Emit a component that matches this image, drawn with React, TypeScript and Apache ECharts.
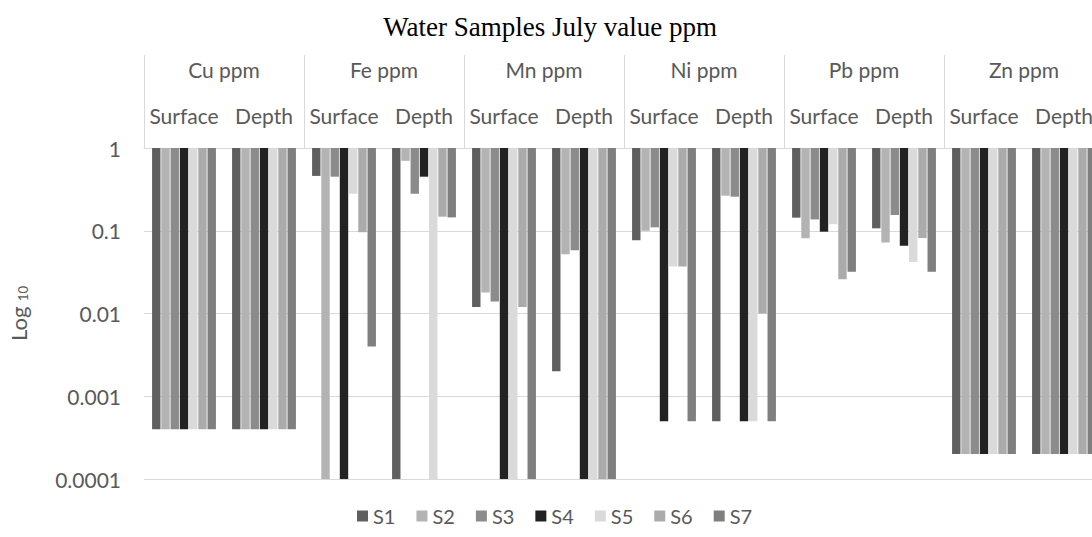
import React, { useEffect, useRef } from "react";
import * as echarts from "echarts";

const categories = [
  "Surface", "Depth", "Surface", "Depth", "Surface", "Depth",
  "Surface", "Depth", "Surface", "Depth", "Surface", "Depth",
];
const groups = ["Cu ppm", "Fe ppm", "Mn ppm", "Ni ppm", "Pb ppm", "Zn ppm"];
const yTickLabels = ["0.0001", "0.001", "0.01", "0.1", "1"];
const seriesNames = ["S1", "S2", "S3", "S4", "S5", "S6", "S7"];
const seriesColors = ["#5f5f5f", "#b3b3b3", "#8b8b8b", "#222222", "#dadada", "#ababab", "#7f7f7f"];

// values per category: Cu S, Cu D, Fe S, Fe D, Mn S, Mn D, Ni S, Ni D, Pb S, Pb D, Zn S, Zn D
const S1 = [0.0004, 0.0004, 0.46, 0.0001, 0.012, 0.002, 0.077, 0.0005, 0.144, 0.107, 0.0002, 0.0002];
const S2 = [0.0004, 0.0004, 0.0001, 0.7, 0.018, 0.052, 0.1, 0.265, 0.081, 0.072, 0.0002, 0.0002];
const S3 = [0.0004, 0.0004, 0.45, 0.28, 0.014, 0.058, 0.11, 0.258, 0.137, 0.155, 0.0002, 0.0002];
const S4 = [0.0004, 0.0004, 0.0001, 0.45, 0.0001, 0.0001, 0.0005, 0.0005, 0.0975, 0.066, 0.0002, 0.0002];
const S5 = [0.0004, 0.0004, 0.28, 0.0001, 0.0001, 0.0001, 0.037, 0.0005, 0.12, 0.042, 0.0002, 0.0002];
const S6 = [0.0004, 0.0004, 0.096, 0.148, 0.012, 0.0001, 0.037, 0.01, 0.026, 0.082, 0.0002, 0.0002];
const S7 = [0.0004, 0.0004, 0.004, 0.145, 0.0001, 0.0001, 0.0005, 0.0005, 0.032, 0.032, 0.0002, 0.0002];
const seriesValues = [S1, S2, S3, S4, S5, S6, S7];

const FONT = "Lato";
const TEXT = "#595959";
const GRID = "#d9d9d9";

export default function App() {
  const ref = useRef<HTMLDivElement>(null);

  useEffect(() => {
    if (!ref.current) return;
    const chart = echarts.init(ref.current, null, { renderer: "svg" });
    chart.setOption({
      animation: false,
      title: {
        text: "Water Samples July value ppm",
        left: 545,
        top: 8,
        textAlign: "center",
        textStyle: {
          fontFamily: "Liberation Serif",
          fontSize: 27,
          fontWeight: "normal",
          color: "#000000",
        },
      },
      legend: {
        data: seriesNames,
        left: 352,
        top: 501,
        itemWidth: 11,
        itemHeight: 11,
        itemGap: 21,
        icon: "rect",
        textStyle: { fontFamily: FONT, fontSize: 20, color: TEXT },
      },
      grid: {
        left: 144,
        right: -12,
        top: 148,
        bottom: 58,
        containLabel: false,
        outerBoundsMode: "none",
      },
      xAxis: [
        {
          type: "category",
          data: categories,
          position: "top",
          axisLine: { show: true, lineStyle: { color: GRID, width: 1 } },
          axisTick: { show: false },
          axisLabel: {
            interval: 0,
            margin: 22,
            fontFamily: FONT,
            fontSize: 21,
            color: TEXT,
          },
          splitLine: { show: false },
        },
        {
          type: "category",
          data: groups,
          position: "top",
          axisLine: { show: false },
          axisTick: {
            show: true,
            interval: 0,
            length: 93,
            lineStyle: { color: GRID, width: 1 },
          },
          axisLabel: {
            interval: 0,
            margin: 68,
            fontFamily: FONT,
            fontSize: 21,
            color: TEXT,
          },
          splitLine: { show: false },
        },
      ],
      yAxis: {
        type: "log",
        logBase: 10,
        min: 0.0001,
        max: 1,
        interval: 1,
        name: "{a|Log }{b|10}",
        nameLocation: "middle",
        nameGap: 115,
        nameRotate: 90,
        nameTextStyle: {
          rich: {
            a: { fontFamily: FONT, fontSize: 22, color: TEXT },
            b: { fontFamily: FONT, fontSize: 13, color: TEXT, verticalAlign: "bottom", padding: [8, 0, 0, 0] },
          },
        },
        axisLine: { show: false },
        axisTick: { show: false },
        axisLabel: {
          margin: 23,
          fontFamily: FONT,
          fontSize: 21,
          color: TEXT,
          formatter: (v: number) => {
            const i = Math.round(Math.log10(v)) + 4;
            return yTickLabels[i] ?? "";
          },
        },
        splitLine: { show: true, lineStyle: { color: GRID, width: 1 } },
      },
      series: seriesNames.map((name, i) => ({
        name,
        type: "bar",
        xAxisIndex: 0,
        data: seriesValues[i],
        barWidth: 8.4,
        barGap: "10%",
        itemStyle: { color: seriesColors[i] },
      })),
    });
    return () => chart.dispose();
  }, []);

  return (
    <div
      ref={ref}
      style={{ position: "fixed", left: 0, top: 0, width: 1092, height: 537, background: "#ffffff" }}
    />
  );
}
